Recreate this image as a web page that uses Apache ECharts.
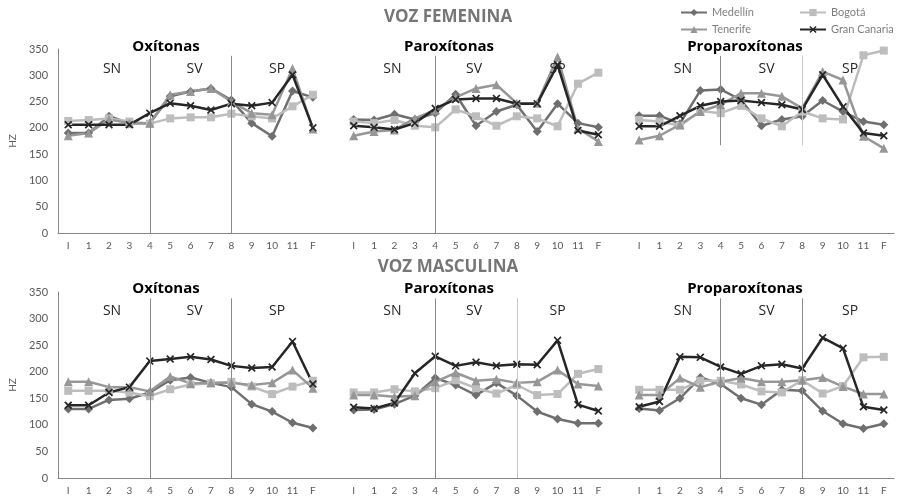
<!DOCTYPE html>
<html><head><meta charset="utf-8">
<script src="https://cdn.jsdelivr.net/npm/echarts@6/dist/echarts.min.js"></script>
<style>html,body{margin:0;padding:0;background:#fff}#c{width:898px;height:497px}</style>
</head><body><div id="c"></div>
<script>
// ---- data ----
const ticks = ['I','1','2','3','4','5','6','7','8','9','10','11','F'];
const panelNames = ['Oxítonas','Paroxítonas','Proparoxítonas'];
const sectionNames = ['SN','SV','SP'];
const rowNames = ['VOZ FEMENINA','VOZ MASCULINA'];
const cities = ['Medellín','Bogotá','Tenerife','Gran Canaria'];

// Voz femenina: [Oxítonas, Paroxítonas, Proparoxítonas]
const femMedellin = [
  [190,190,222,209,209,260,269,275,253,209,184,270,258],
  [216,215,226,216,228,264,204,231,244,193,246,209,201],
  [223,223,208,271,273,253,204,216,222,252,231,212,206]];
const femBogota = [
  [213,215,218,212,208,218,220,220,227,222,218,241,263],
  [212,209,215,204,201,235,222,204,222,218,203,284,305],
  [215,212,204,232,228,242,218,203,231,218,216,338,347]];
const femTenerife = [
  [185,190,216,209,209,263,269,275,250,228,225,313,198],
  [185,193,196,218,234,258,275,282,247,247,335,199,174],
  [177,185,206,231,244,266,266,260,237,307,291,184,161]];
const femGranCanaria = [
  [206,206,206,206,228,247,242,234,246,242,248,301,200],
  [204,201,197,209,237,254,256,256,246,246,320,195,187],
  [203,203,223,242,250,252,248,244,235,301,240,190,185]];

// Voz masculina
const masMedellin = [
  [130,130,147,149,161,184,189,179,171,139,125,104,94],
  [128,129,139,155,188,175,156,179,155,125,111,103,103],
  [131,127,150,189,177,150,138,166,164,126,102,93,102]];
const masBogota = [
  [164,164,164,161,154,167,176,178,181,172,158,172,183],
  [161,161,167,163,169,184,169,159,175,156,158,196,205],
  [166,166,166,183,183,176,163,161,184,159,173,227,228]];
const masTenerife = [
  [181,181,171,171,163,191,178,179,179,175,179,203,169],
  [156,156,153,155,181,198,183,186,179,181,203,177,173],
  [156,156,188,171,181,188,181,181,184,189,172,158,158]];
const masGranCanaria = [
  [137,137,161,171,220,224,228,223,211,207,209,257,177],
  [133,131,141,197,229,211,218,211,214,213,259,138,126],
  [134,144,228,227,209,196,211,214,206,264,244,134,128]];

// ---- build ----
const categories = [...ticks, '', ...ticks, '', ...ticks];
const PANEL = ticks.length + 1;
const join = a => [...a[0], null, ...a[1], null, ...a[2]];
const rows = [
  [femMedellin, femBogota, femTenerife, femGranCanaria],
  [masMedellin, masBogota, masTenerife, masGranCanaria]
];
const xPath = 'path://M0,1.5L1.5,0L5,3.5L8.5,0L10,1.5L6.5,5L10,8.5L8.5,10L5,6.5L1.5,10L0,8.5L3.5,5Z';
const cityStyle = [
  {color:'#6f6f6f', symbol:'diamond', size:9},
  {color:'#bdbdbd', symbol:'rect', size:8},
  {color:'#979797', symbol:'triangle', size:9},
  {color:'#262626', symbol:xPath, size:8}
];
const DARK = '#8a8a8a', LIGHT = '#c9c9c9';
// vertical separators per row: [categoryIndexInPanel, panel, topValue, bottomValue, color]
const dividers = [
  [[4,0,337,0,DARK],[8,0,337,0,DARK],[4,1,337,0,DARK],[4,2,337,167,DARK],[8,2,337,167,LIGHT]],
  [[4,0,338,0,DARK],[8,0,338,0,DARK],[4,1,338,0,DARK],[8,1,338,0,LIGHT],[4,2,338,0,DARK],[8,2,338,0,DARK]]
];
const sectionPos = [2,6,10];
const sectionShift = [[3,4,5],[-2,-2,0],[3,5,7]];
const sectionY = [312,314];

const FONT = 'Lato';
const series = [];
rows.forEach((row, r) => {
  series.push({
    type:'line', name:'dividers'+r, xAxisIndex:r, yAxisIndex:r, data:[], silent:true,
    markLine:{
      silent:true, symbol:'none', animation:false, label:{show:false},
      data: dividers[r].map(d => [
        {coord:[d[1]*PANEL + d[0], d[2]], lineStyle:{color:d[4], width:1, type:'solid'}},
        {coord:[d[1]*PANEL + d[0], d[3]]}
      ])
    },
    markPoint:{
      silent:true, animation:false,
      data: [0,1,2].flatMap(p => sectionNames.map((s, i) => ({
        coord:[p*PANEL + sectionPos[i], sectionY[r]], symbolSize:0,
        label:{show:true, formatter:s, color:'#262626', fontFamily:'Open Sans', fontSize:14, offset:[sectionShift[p][i],0]}
      })))
    }
  });
  row.forEach((vals, c) => {
    const st = cityStyle[c];
    series.push({
      type:'line', name:cities[c], xAxisIndex:r, yAxisIndex:r,
      data: join(vals), connectNulls:false,
      symbol: st.symbol, symbolSize: st.size, showSymbol:true,
      lineStyle:{color:st.color, width:2.5},
      itemStyle:{color:st.color},
      emphasis:{disabled:true}
    });
  });
});

const grids = [
  {left:48, right:4, top:49, height:184},
  {left:48, right:4, top:292, height:186}
];
const xAxes = grids.map((g,i) => ({
  type:'category', gridIndex:i, data:categories, boundaryGap:true,
  axisLine:{show:true, lineStyle:{color:'#868686', width:1}},
  axisTick:{show:false},
  axisLabel:{interval:0, color:'#595959', fontSize:10, fontFamily:FONT, margin:8},
  splitLine:{show:false}
}));
const yAxes = grids.map((g,i) => ({
  type:'value', gridIndex:i, min:0, max:350, interval:50,
  axisLine:{show:true, lineStyle:{color:'#868686', width:1}},
  axisTick:{show:false}, splitLine:{show:false},
  axisLabel:{color:'#595959', fontSize:11, fontFamily:FONT, margin:10},
  name:'HZ', nameLocation:'middle', nameGap:31,
  nameTextStyle:{color:'#595959', fontSize:10, fontFamily:FONT}
}));

const panelX = [166, 449, 745];
const titleY = [47, 289];
const rowTitleY = [17, 267];
const graphics = [];
rowNames.forEach((t, r) => {
  graphics.push({type:'text', x:448, y:rowTitleY[r], silent:true,
    style:{text:t, fill:'#767676', font:'bold 17px "Open Sans"', align:'center', verticalAlign:'middle', textAlign:'center', textVerticalAlign:'middle'}});
  panelNames.forEach((p, i) => {
    graphics.push({type:'text', x:panelX[i], y:titleY[r], silent:true,
      style:{text:p, fill:'#000', font:'bold 15px "Open Sans"', align:'center', verticalAlign:'middle', textAlign:'center', textVerticalAlign:'middle'}});
  });
});

const legendPos = [[680,7],[799,7],[680,24],[799,24]];
const legends = cities.map((c, i) => ({
  data:[c], left:legendPos[i][0], top:legendPos[i][1], padding:0,
  itemWidth:26, itemHeight:9, selectedMode:false,
  textStyle:{color:'#7f7f7f', fontSize:11, fontFamily:FONT}
}));

const chart = echarts.init(document.getElementById('c'), null, {renderer:'canvas'});
chart.setOption({
  animation:false,
  backgroundColor:'#fff',
  grid:grids, xAxis:xAxes, yAxis:yAxes,
  legend:legends,
  graphic:graphics,
  series:series
});
</script></body></html>
